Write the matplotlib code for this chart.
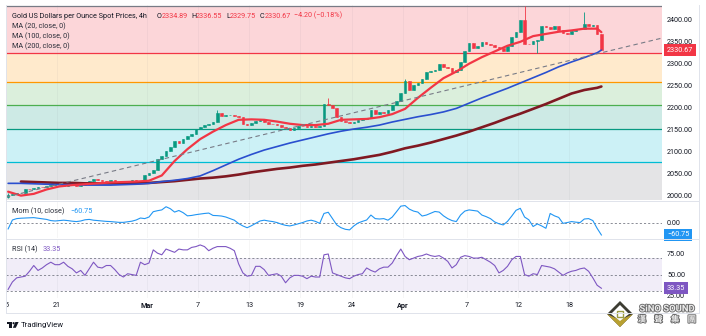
import numpy as np
import pandas as pd
import matplotlib
matplotlib.use("Agg")
import matplotlib.pyplot as plt
import matplotlib.transforms as mtransforms
import matplotlib.patheffects as pe
from matplotlib.patches import Polygon, Rectangle, Circle

plt.rcParams['font.family'] = ['Roboto', 'DejaVu Sans']

# values, 3 candles per session (8h steps)
closes = [
    2000, 2003, 2004, 2006, 2014, 2013, 2017, 2019, 2018, 2020, 2023, 2025,
    2026, 2022, 2026, 2028, 2022, 2024, 2026, 2032, 2036, 2034, 2032, 2031,
    2034, 2030, 2031, 2030, 2027, 2034, 2030, 2031, 2045, 2050, 2057, 2083,
    2090, 2100, 2110, 2124, 2118, 2128, 2135, 2140, 2150, 2156, 2160, 2162,
    2168, 2188, 2180, 2182, 2184, 2181, 2178, 2162, 2160, 2165, 2170, 2172,
    2168, 2163, 2162, 2160, 2156, 2153, 2148, 2154, 2158, 2157, 2155, 2157,
    2156, 2158, 2208, 2205, 2200, 2178, 2170, 2166, 2165, 2168, 2172, 2174,
    2175, 2195, 2185, 2190, 2188, 2194, 2205, 2215, 2233, 2260, 2240, 2251,
    2256, 2265, 2280, 2283, 2285, 2300, 2292, 2290, 2280, 2285, 2305, 2329,
    2347, 2336, 2340, 2350, 2345, 2343, 2338, 2336, 2330, 2340, 2362, 2372,
    2400, 2345, 2344, 2352, 2355, 2385, 2383, 2380, 2385, 2378, 2370, 2368,
    2375, 2380, 2379, 2390, 2385, 2388, 2368, 2331,
]
first_open = 1996
wick_high = {0: 2004, 49: 2195, 75: 2222, 93: 2265, 121: 2431.5, 135: 2417}
wick_low = {0: 1993, 124: 2325}

# moving averages, one reading per session + last bar
ma20 = [2008, 1999, 2003, 2013, 2020, 2023, 2025, 2027, 2029, 2030, 2031, 2033,
        2045, 2078, 2105, 2128, 2145, 2160, 2172, 2173, 2172, 2168, 2163, 2160,
        2160, 2163, 2172, 2173, 2174, 2178, 2185, 2197, 2222, 2245, 2267, 2282,
        2300, 2315, 2328, 2341, 2350, 2363, 2368, 2373, 2376, 2380, 2380, 2372]
ma100 = [2027, 2027, 2026, 2025, 2024, 2024, 2023, 2023, 2023, 2024, 2025, 2027,
         2031, 2034, 2038, 2044, 2056, 2069, 2082, 2093, 2103, 2111, 2119, 2126,
         2133, 2140, 2146, 2151, 2155, 2160, 2167, 2173, 2179, 2184, 2190, 2198,
         2210, 2222, 2233, 2244, 2256, 2268, 2280, 2293, 2304, 2314, 2325, 2331]
ma200 = [np.nan, 2031, 2030, 2029, 2028, 2028, 2027, 2027, 2027, 2027, 2027, 2028,
         2030, 2032, 2035, 2038, 2040, 2043, 2047, 2052, 2056, 2060, 2063, 2067,
         2070, 2074, 2078, 2082, 2087, 2092, 2099, 2107, 2113, 2120, 2128, 2136,
         2145, 2155, 2165, 2176, 2186, 2197, 2208, 2220, 2232, 2240, 2245, 2248]

mom = [-30, 15, 22, 24, 25, 26, 27, 24, 21, 18, 12, 10, 12, 14, 12, 9, 7, 10, 16, 18,
       14, 12, 10, 8, 7, 5, 3, 3, 6, 9, 15, 25, 22, 30, 57, 62, 66, 82, 72, 55,
       63, 52, 36, 38, 42, 45, 48, 50, 38, 37, 35, 30, 22, 14, -3, -15, -24, -14, -2, 10,
       14, 10, 7, 2, -6, -12, -15, -10, -4, 2, 10, 14, 8, -2, 48, 54, 22, -10, -24, -32,
       -35, -15, 0, 8, 15, 40, 22, 20, 22, 14, 30, 57, 85, 88, 70, 60, 55, 35, 40, 49,
       58, 55, 36, 22, 12, 7, 40, 60, 66, 63, 60, 40, 32, 22, 5, -4, -10, 8, 35, 64,
       74, 30, 16, -18, -5, -15, -27, 48, 36, 28, -2, 2, 7, 4, 2, 20, 22, 12, -27, -60.75]
rsi = [32, 41, 46, 47, 48, 54, 61, 55, 58, 62, 65, 62, 62, 65, 60, 57, 52, 55, 49, 57,
       65, 59, 58, 61, 61, 56, 50, 47, 51, 50, 49, 65, 62, 64, 80, 76, 74, 81, 79, 77,
       81, 80, 80, 83, 84, 86, 84, 79, 82, 84, 84, 84, 82, 79, 63, 52, 48, 49, 60, 60,
       56, 49, 50, 51, 48, 40, 46, 49, 49, 48, 45, 48, 47, 47, 74, 75, 52, 50, 48, 46,
       45, 48, 50, 51, 58, 55, 53, 57, 59, 59, 64, 73, 81, 72, 68, 70, 72, 73, 75, 73,
       72, 73, 70, 66, 58, 62, 71, 73, 72, 70, 70, 71, 68, 65, 61, 52, 55, 60, 68, 72,
       72, 50, 48, 51, 50, 61, 60, 59, 57, 53, 49, 52, 54, 55, 57, 58, 54, 46, 37, 33.35]

fib_high, fib_low = 2431.5, 1978
fib_ratios = [0, 0.236, 0.382, 0.5, 0.618, 0.786, 1]
fib_colors = ['#787b86', '#f23645', '#ff9800', '#4caf50', '#089981', '#00bcd4', '#787b86']
trend = [(0, 1997), (139, 2325)]

title = "Gold US Dollars per Ounce Spot Prices, 4h"
last_ohlc = [("O", 2334.89), ("H", 2336.55), ("L", 2329.75), ("C", 2330.67)]
last_change, last_change_pct = -4.20, -0.18

tick_dates = ["2024-02-15", "2024-02-21", "2024-03-01", "2024-03-07", "2024-03-13", "2024-03-19",
              "2024-03-25", "2024-04-01", "2024-04-08", "2024-04-12", "2024-04-18"]
tick_labels = ["15", "21", "Mar", "7", "13", "19", "24", "Apr", "7", "12", "18"]

sessions = pd.bdate_range("2024-02-15", "2024-04-22").drop(pd.Timestamp("2024-03-29"))
per_session = 3
x = np.arange(len(closes))
ma_x = np.r_[np.arange(0, len(closes), per_session), len(closes) - 1]
tick_pos = [per_session * sessions.get_loc(pd.Timestamp(d)) - 0.5 for d in tick_dates]

DARK = '#131722'
RED = '#f23645'
GREEN = '#089981'
BLUE = '#2196f3'
PURPLE = '#7e57c2'
FS = 5.2

W, H = 706, 336
fig = plt.figure(figsize=(W / 100, H / 100), dpi=100)


def pane(x0, y0, x1, y1):
    a = fig.add_axes([x0 / W, 1 - y1 / H, (x1 - x0) / W, (y1 - y0) / H])
    for s in a.spines.values():
        s.set_visible(False)
    a.set_xlim(-0.47, 153.2)
    a.yaxis.tick_right()
    a.tick_params(length=0, labelsize=FS, labelcolor=DARK)
    a.tick_params(axis='y', pad=3.6)
    a.set_xticks(tick_pos)
    a.tick_params(axis='x', labelbottom=False)
    a.grid(axis='x', color='#787b86', alpha=0.08, lw=0.6)
    a.yaxis.set_major_formatter('{x:.2f}')
    return a


def value_box(a, val, text, col):
    tr = mtransforms.blended_transform_factory(a.transAxes, a.transData)
    a.annotate(text, xy=(1, val), xycoords=tr, xytext=(3.6, 0), textcoords='offset points',
               ha='left', va='center', fontsize=FS, color='white', annotation_clip=False,
               bbox=dict(boxstyle='square,pad=0.35', fc=col, ec='none'), zorder=20)


# price pane
ax_p = pane(6, 5, 662, 200)
ax_p.set_ylim(1989, 2434)
ax_p.set_yticks(np.arange(2000, 2401, 50))

levels = [fib_high - r * (fib_high - fib_low) for r in fib_ratios]
for j, lv in enumerate(levels):
    ax_p.axhline(lv, color=fib_colors[j], lw=0.9, zorder=1)
    if j:
        ax_p.axhspan(lv, levels[j - 1], color=fib_colors[j], alpha=0.2, lw=0, zorder=0)

c = np.array(closes, dtype=float)
o = np.r_[first_open, c[:-1]]
hi = np.maximum(o, c)
lo = np.minimum(o, c)
for i, v in wick_high.items():
    hi[i] = max(hi[i], v)
for i, v in wick_low.items():
    lo[i] = min(lo[i], v)
cols = [GREEN if cc >= oo else RED for oo, cc in zip(o, c)]
ax_p.vlines(x, lo, hi, colors=cols, lw=0.6, zorder=3)
ax_p.bar(x, c - o, bottom=o, width=0.62, color=cols, edgecolor=cols, lw=0.4, zorder=3)

ax_p.plot(ma_x, ma200, color='#801922', lw=1.9, zorder=4, solid_capstyle='round')
ax_p.plot(ma_x, ma100, color='#2a4fcf', lw=1.2, zorder=4, solid_capstyle='round')
ax_p.plot(ma_x, ma20, color=RED, lw=1.6, zorder=4, solid_capstyle='round')
ax_p.axline(trend[0], trend[1], color='#787b86', lw=0.8, ls=(0, (4, 3)), zorder=5)
value_box(ax_p, closes[-1] if False else last_ohlc[3][1], f"{last_ohlc[3][1]:.2f}", RED)

# momentum pane
ax_m = pane(6, 201, 662, 238)
ax_m.set_ylim(-76, 111)
ax_m.set_yticks([0])
ax_m.axhline(0, color='#787b86', lw=0.6, ls=(0, (2.5, 2.5)))
ax_m.plot(x, mom, color=BLUE, lw=0.8)
value_box(ax_m, mom[-1], f"{mom[-1]:.2f}".replace('-', '\u2212'), BLUE)

# rsi pane
ax_r = pane(6, 240, 662, 298)
ax_r.set_ylim(21.5, 92)
ax_r.set_yticks([25, 50, 75])
ax_r.axhspan(30, 70, color=PURPLE, alpha=0.1, lw=0)
for lv in (70, 50, 30):
    ax_r.axhline(lv, color='#787b86', lw=0.6, ls=(0, (2.5, 2.5)))
ax_r.plot(x, rsi, color=PURPLE, lw=0.8)
value_box(ax_r, rsi[-1], f"{rsi[-1]:.2f}", PURPLE)
ax_r.tick_params(axis='x', labelbottom=True, pad=3)
ax_r.set_xticklabels(tick_labels)
for t, lab in zip(ax_r.get_xticklabels(), tick_labels):
    if lab in ("Mar", "Apr"):
        t.set_fontweight('bold')
clip = mtransforms.TransformedBbox(mtransforms.Bbox([[6 / W, 0], [1, 1]]), fig.transFigure)
first_lab = ax_r.xaxis.get_major_ticks()[0].label1
first_lab.set_clip_box(clip)
first_lab.set_clip_on(True)

# overlay in pixel coordinates for legends, frame and logos
ov = fig.add_axes([0, 0, 1, 1], zorder=10)
ov.set_xlim(0, W)
ov.set_ylim(H, 0)
ov.axis('off')

frame = '#e0e3eb'
ov.plot([6, 6], [5, 313], color=frame, lw=0.7)
ov.plot([699, 699], [5, 313], color=frame, lw=0.7)
ov.plot([6, 699], [313, 313], color=frame, lw=0.7)
ov.plot([6, 699], [200.5, 200.5], color=frame, lw=0.7)
ov.plot([6, 699], [239, 239], color=frame, lw=0.7)


def chain(pieces, x0, y0):
    prev = ov.text(x0, y0, pieces[0][0], color=pieces[0][1], fontsize=FS, ha='left', va='center')
    for s, col, gap in pieces[1:]:
        prev = ov.annotate(s, xy=(1, 0), xycoords=prev, xytext=(gap, 0), textcoords='offset points',
                           color=col, fontsize=FS, ha='left', va='bottom')


head = [(title, DARK, 0)]
for k, (letter, val) in enumerate(last_ohlc):
    head.append((letter, DARK, 7 if k == 0 else 2.5))
    head.append((f"{val:.2f}", RED, 0))
head.append((f"{last_change:.2f} ({last_change_pct:.2f}%)".replace('-', '\u2212'), RED, 2.5))
chain(head, 12, 16)

for k, p in enumerate([20, 100, 200]):
    ov.text(12, 26 + 10.3 * k, f"MA ({p}, close, 0)", color='#2a2e39', fontsize=FS, ha='left', va='center')

chain([("Mom (10, close)", '#2a2e39', 0), (f"{mom[-1]:.2f}".replace('-', '\u2212'), BLUE, 4)], 12, 211)
chain([("RSI (14)", '#2a2e39', 0), (f"{rsi[-1]:.2f}", PURPLE, 4)], 12, 249.5)

# TradingView logo
ov.add_patch(Rectangle((7, 322), 4.6, 2.2, fc=DARK, ec='none'))
ov.add_patch(Rectangle((9.4, 322), 2.2, 5.8, fc=DARK, ec='none'))
ov.add_patch(Circle((13.6, 323.2), 1.1, fc=DARK, ec='none'))
ov.add_patch(Polygon([(15.4, 322), (18.6, 322), (15.8, 327.8), (12.8, 327.8)], fc=DARK, ec='none'))
ov.text(21, 325.3, "TradingView", color=DARK, fontsize=5.6, ha='left', va='center')

# Sino Sound watermark
ov.add_patch(Polygon([(620, 301), (633, 314), (620, 327), (607, 314)], fc='#3d3d33', ec='none'))
ov.add_patch(Polygon([(607, 314), (620, 327), (633, 314), (620, 320)], fc='#b8a030', ec='none'))
ov.add_patch(Polygon([(620, 305), (629, 314), (620, 321), (611, 314)], fc='white', ec='none'))
ov.add_patch(Rectangle((617, 310.5), 6, 6, fc='none', ec='#9a9a40', lw=1.0))
stroke = [pe.withStroke(linewidth=1.3, foreground='#6b6b6b')]
ov.text(667, 309, "SiNO SOUND", color='#ececec', fontsize=6.8, fontweight='bold',
        ha='center', va='center', path_effects=stroke)
ov.text(667, 319.5, "漢\u3000聲\u3000集\u3000團", color='#ececec', fontsize=6,
        family=['Noto Sans CJK TC', 'DejaVu Sans'], fontweight='bold',
        ha='center', va='center', path_effects=stroke)

fig.savefig("out.png", dpi=100)
